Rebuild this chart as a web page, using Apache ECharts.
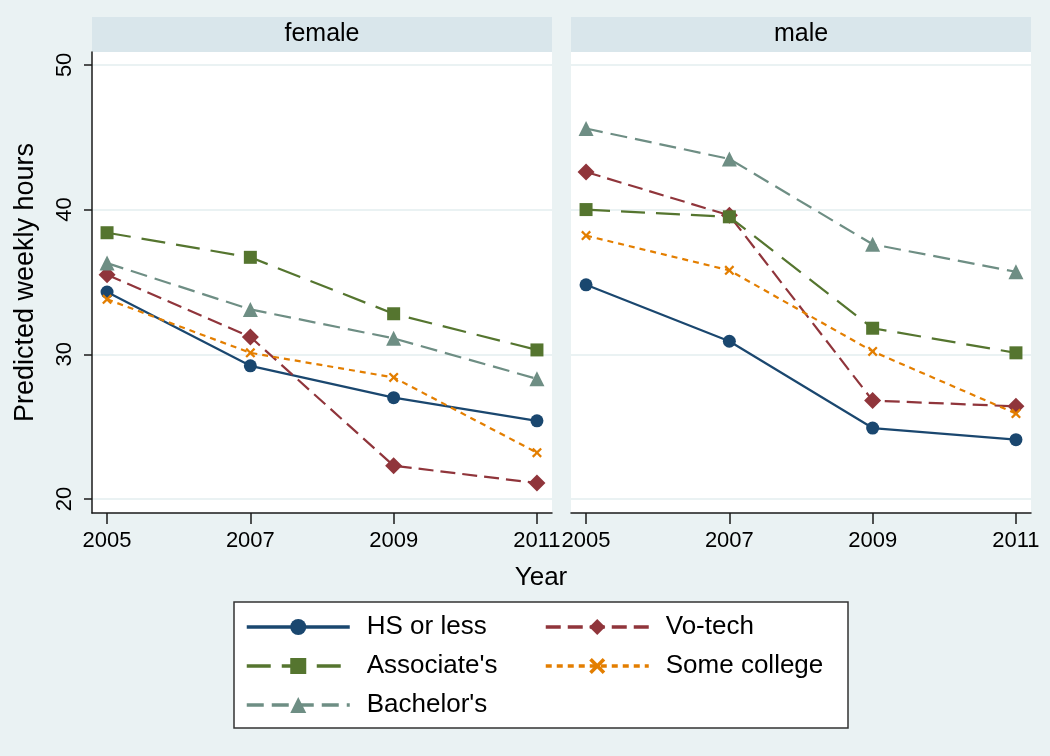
<!DOCTYPE html>
<html>
<head>
<meta charset="utf-8">
<script src="https://cdn.jsdelivr.net/npm/echarts@6/dist/echarts.min.js"></script>
<style>
  html, body { margin: 0; padding: 0; background: #EAF2F3; }
  #main { width: 1050px; height: 756px; }
</style>
</head>
<body>
<div id="main"></div>
<script>
var years = [2005, 2007, 2009, 2011];
var yTicks = [20, 30, 40, 50];
var panels = ['female', 'male'];
var groups = ['HS or less', 'Vo-tech', "Associate's", 'Some college', "Bachelor's"];

// female
var hsFemale = [34.3, 29.2, 27.0, 25.4];
var votechFemale = [35.5, 31.2, 22.3, 21.1];
var assocFemale = [38.4, 36.7, 32.8, 30.3];
var someFemale = [33.8, 30.1, 28.4, 23.2];
var bachFemale = [36.3, 33.1, 31.1, 28.3];

// male
var hsMale = [34.8, 30.9, 24.9, 24.1];
var votechMale = [42.6, 39.6, 26.8, 26.4];
var assocMale = [40.0, 39.5, 31.8, 30.1];
var someMale = [38.2, 35.8, 30.2, 25.9];
var bachMale = [45.6, 43.5, 37.6, 35.7];

var values = [
  [hsFemale, votechFemale, assocFemale, someFemale, bachFemale],
  [hsMale, votechMale, assocMale, someMale, bachMale]
];

var font = '"Liberation Sans", Arial, sans-serif';
var colors = ['#1A476F', '#90353B', '#55752F', '#E37E00', '#6E8E84'];
var xMark = 'path://M0,1.6L1.6,0L5,3.4L8.4,0L10,1.6L6.6,5L10,8.4L8.4,10L5,6.6L1.6,10L0,8.4L3.4,5Z';
var symbols = ['circle', 'diamond', 'rect', xMark, 'triangle'];
var symbolSizes = [13, 17, 13, 10, 15];
var dashes = ['solid', [15, 7], [24, 11], [6, 5], [17, 8]];

var chart = echarts.init(document.getElementById('main'));

var grids = [], xAxes = [], yAxes = [], series = [];
panels.forEach(function (name, p) {
  grids.push({
    left: p === 0 ? 92 : 571,
    top: 52,
    width: 460,
    height: 461,
    show: true,
    backgroundColor: '#fff',
    borderWidth: 0
  });
  xAxes.push({
    type: 'value',
    gridIndex: p,
    min: 2004.79,
    max: 2011.21,
    axisLine: { show: true, onZero: false, lineStyle: { color: '#1a1a1a', width: 1.5 } },
    axisTick: { show: true, length: 11, customValues: years, lineStyle: { color: '#1a1a1a', width: 1.5 } },
    axisLabel: {
      customValues: years,
      fontSize: 22,
      fontFamily: font,
      color: '#000',
      margin: 17,
      formatter: function (v) { return String(v); }
    },
    splitLine: { show: false }
  });
  yAxes.push({
    type: 'value',
    gridIndex: p,
    min: 19.03,
    max: 50.89,
    name: p === 0 ? 'Predicted weekly hours' : '',
    nameLocation: 'middle',
    nameGap: 53,
    nameTextStyle: { fontSize: 27, fontFamily: font, color: '#000' },
    axisLine: { show: p === 0, lineStyle: { color: '#1a1a1a', width: 1.5 } },
    axisTick: { show: p === 0, length: 8, customValues: yTicks, lineStyle: { color: '#1a1a1a', width: 1.5 } },
    axisLabel: {
      show: p === 0,
      customValues: yTicks,
      rotate: 90,
      fontSize: 22,
      fontFamily: font,
      color: '#000',
      margin: 16
    },
    splitLine: { show: true, lineStyle: { color: '#EAF2F3', width: 2 } }
  });
  groups.forEach(function (g, i) {
    series.push({
      name: g,
      type: 'line',
      xAxisIndex: p,
      yAxisIndex: p,
      data: years.map(function (yr, k) { return [yr, values[p][i][k]]; }),
      symbol: symbols[i],
      symbolSize: symbolSizes[i],
      lineStyle: { color: colors[i], width: 2.2, type: dashes[i] },
      itemStyle: { color: colors[i] },
      emphasis: { disabled: true },
      silent: true
    });
  });
});

var legendText = { fontSize: 26, fontFamily: font, color: '#000', lineHeight: 28, padding: [0, 0, 0, 12] };

var option = {
  backgroundColor: '#EAF2F3',
  animation: false,
  grid: grids,
  xAxis: xAxes,
  yAxis: yAxes,
  legend: [
    {
      data: ['HS or less', "Associate's", "Bachelor's"],
      orient: 'vertical',
      left: 245,
      top: 613,
      padding: 0,
      itemWidth: 103,
      itemHeight: 20,
      itemGap: 11,
      selectedMode: false,
      lineStyle: { width: 3.5 },
      textStyle: legendText
    },
    {
      data: ['Vo-tech', 'Some college'],
      orient: 'vertical',
      left: 544,
      top: 613,
      padding: 0,
      itemWidth: 103,
      itemHeight: 20,
      itemGap: 11,
      selectedMode: false,
      lineStyle: { width: 3.5 },
      textStyle: legendText
    }
  ],
  graphic: [
    { type: 'rect', shape: { x: 92, y: 17, width: 460, height: 35 }, style: { fill: '#D9E6EB' } },
    { type: 'rect', shape: { x: 571, y: 17, width: 460, height: 35 }, style: { fill: '#D9E6EB' } },
    { type: 'text', x: 322, y: 34, style: { text: 'female', font: '25px ' + font, fill: '#000', textAlign: 'center', textVerticalAlign: 'middle' } },
    { type: 'text', x: 801, y: 34, style: { text: 'male', font: '25px ' + font, fill: '#000', textAlign: 'center', textVerticalAlign: 'middle' } },
    { type: 'text', x: 541, y: 578, style: { text: 'Year', font: '26px ' + font, fill: '#000', textAlign: 'center', textVerticalAlign: 'middle' } },
    { type: 'rect', shape: { x: 234, y: 602, width: 614, height: 126 }, style: { fill: '#fff', stroke: '#333', lineWidth: 1.5 } }
  ],
  series: series
};

chart.setOption(option);
</script>
</body>
</html>
